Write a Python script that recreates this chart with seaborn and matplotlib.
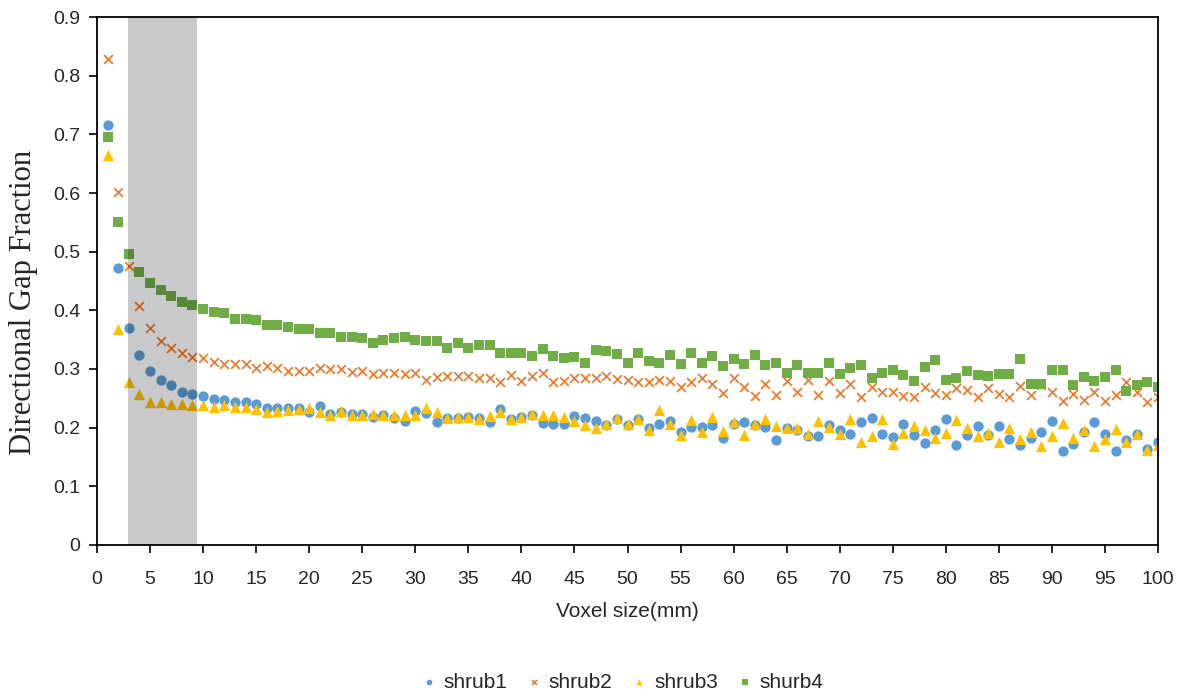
import numpy as np
import pandas as pd
import matplotlib
matplotlib.use("Agg")
import matplotlib.pyplot as plt
import seaborn as sns

voxel = list(range(1, 101))

shrub1 = [0.716, 0.472, 0.370, 0.324, 0.297, 0.281, 0.272, 0.261, 0.258, 0.254,
          0.249, 0.248, 0.243, 0.243, 0.240, 0.234, 0.234, 0.234, 0.233, 0.227,
          0.237, 0.224, 0.226, 0.223, 0.223, 0.219, 0.222, 0.216, 0.211, 0.228,
          0.225, 0.210, 0.216, 0.216, 0.219, 0.216, 0.210, 0.231, 0.215, 0.219,
          0.222, 0.208, 0.206, 0.206, 0.220, 0.216, 0.212, 0.205, 0.215, 0.204,
          0.214, 0.200, 0.207, 0.212, 0.193, 0.201, 0.201, 0.204, 0.182, 0.206,
          0.209, 0.204, 0.201, 0.179, 0.199, 0.196, 0.186, 0.185, 0.204, 0.196,
          0.189, 0.210, 0.216, 0.189, 0.184, 0.207, 0.188, 0.174, 0.196, 0.214,
          0.170, 0.188, 0.203, 0.188, 0.203, 0.180, 0.170, 0.183, 0.192, 0.211,
          0.160, 0.173, 0.193, 0.209, 0.189, 0.161, 0.179, 0.189, 0.164, 0.175]

shrub2 = [0.828, 0.602, 0.476, 0.407, 0.370, 0.348, 0.335, 0.327, 0.320, 0.318,
          0.312, 0.309, 0.309, 0.309, 0.301, 0.305, 0.302, 0.297, 0.297, 0.297,
          0.301, 0.300, 0.300, 0.295, 0.297, 0.292, 0.294, 0.294, 0.292, 0.294,
          0.282, 0.286, 0.288, 0.288, 0.288, 0.284, 0.284, 0.278, 0.290, 0.280,
          0.288, 0.294, 0.278, 0.280, 0.284, 0.284, 0.284, 0.288, 0.283, 0.281,
          0.278, 0.277, 0.282, 0.280, 0.270, 0.277, 0.284, 0.275, 0.259, 0.284,
          0.269, 0.254, 0.274, 0.255, 0.280, 0.261, 0.281, 0.256, 0.280, 0.259,
          0.274, 0.252, 0.269, 0.261, 0.261, 0.254, 0.252, 0.270, 0.259, 0.256,
          0.267, 0.264, 0.252, 0.267, 0.257, 0.252, 0.271, 0.256, 0.272, 0.260,
          0.245, 0.258, 0.248, 0.260, 0.245, 0.256, 0.277, 0.260, 0.243, 0.253]

shrub3 = [0.664, 0.369, 0.278, 0.257, 0.244, 0.244, 0.240, 0.241, 0.239, 0.238,
          0.235, 0.239, 0.235, 0.236, 0.231, 0.227, 0.229, 0.230, 0.231, 0.233,
          0.226, 0.222, 0.229, 0.222, 0.222, 0.223, 0.222, 0.221, 0.222, 0.222,
          0.233, 0.227, 0.216, 0.218, 0.218, 0.214, 0.220, 0.227, 0.215, 0.219,
          0.223, 0.221, 0.221, 0.219, 0.212, 0.205, 0.200, 0.206, 0.216, 0.206,
          0.214, 0.196, 0.230, 0.206, 0.188, 0.213, 0.193, 0.218, 0.194, 0.210,
          0.188, 0.206, 0.214, 0.202, 0.200, 0.199, 0.190, 0.212, 0.201, 0.190,
          0.214, 0.176, 0.186, 0.214, 0.173, 0.191, 0.203, 0.196, 0.182, 0.191,
          0.213, 0.199, 0.185, 0.191, 0.176, 0.200, 0.180, 0.193, 0.169, 0.185,
          0.208, 0.182, 0.196, 0.169, 0.180, 0.197, 0.176, 0.190, 0.162, 0.170]

shurb4 = [0.696, 0.550, 0.496, 0.466, 0.447, 0.435, 0.425, 0.414, 0.409, 0.403,
          0.398, 0.395, 0.385, 0.385, 0.384, 0.375, 0.375, 0.372, 0.368, 0.368,
          0.362, 0.362, 0.355, 0.355, 0.352, 0.345, 0.350, 0.352, 0.354, 0.350,
          0.348, 0.347, 0.335, 0.344, 0.335, 0.341, 0.341, 0.328, 0.328, 0.328,
          0.322, 0.334, 0.322, 0.318, 0.320, 0.311, 0.332, 0.330, 0.326, 0.311,
          0.327, 0.314, 0.311, 0.324, 0.309, 0.327, 0.310, 0.322, 0.305, 0.317,
          0.309, 0.324, 0.307, 0.311, 0.294, 0.307, 0.294, 0.294, 0.311, 0.292,
          0.302, 0.307, 0.284, 0.294, 0.298, 0.290, 0.280, 0.303, 0.315, 0.282,
          0.284, 0.297, 0.290, 0.288, 0.292, 0.292, 0.317, 0.274, 0.274, 0.299,
          0.299, 0.272, 0.286, 0.279, 0.287, 0.299, 0.263, 0.273, 0.277, 0.270]

series_names = ["shrub1", "shrub2", "shrub3", "shurb4"]
series_values = [shrub1, shrub2, shrub3, shurb4]
colors = ["#5B9BD5", "#ED7D31", "#FFC000", "#70AD47"]
markers = ["o", "x", "^", "s"]
sizes = [55, 40, 65, 55]

x_ticks = list(range(0, 101, 5))
y_ticks = [0, 0.1, 0.2, 0.3, 0.4, 0.5, 0.6, 0.7, 0.8, 0.9]
y_tick_labels = ["0", "0.1", "0.2", "0.3", "0.4", "0.5", "0.6", "0.7", "0.8", "0.9"]
band = (2.9, 9.4)

sns.set_style("white")
sans = ["Liberation Sans", "DejaVu Sans"]
plt.rcParams["font.family"] = sans

fig = plt.figure(figsize=(11.87, 6.94), dpi=100)
ax = fig.add_axes([0.0817, 0.2147, 0.9756 - 0.0817, 0.9755 - 0.2147])

for name, vals, c, m, s in zip(series_names, series_values, colors, markers, sizes):
    df = pd.DataFrame({"x": voxel, "y": vals})
    if m == "x":
        sns.scatterplot(data=df, x="x", y="y", ax=ax, color=c, marker=m, s=s,
                        linewidth=1.3, label=name, zorder=2)
    else:
        sns.scatterplot(data=df, x="x", y="y", ax=ax, color=c, marker=m, s=s,
                        linewidth=0, label=name, zorder=2)

ax.axvspan(band[0], band[1], color="black", alpha=0.21, lw=0, zorder=3)

ax.set_xlim(0, 100)
ax.set_ylim(0, 0.9)
ax.set_xticks(x_ticks)
ax.set_xticklabels([str(t) for t in x_ticks], fontsize=14, family=sans)
ax.set_yticks(y_ticks)
ax.set_yticklabels(y_tick_labels, fontsize=14, family=sans)
ax.tick_params(axis="both", direction="out", length=6, width=1.2, color="black",
               bottom=True, left=True, pad=6)
ax.tick_params(axis="x", pad=13)
for sp in ax.spines.values():
    sp.set_visible(True)
    sp.set_color("black")
    sp.set_linewidth(1.3)

ax.set_xlabel("Voxel size(mm)", fontsize=15, family=sans, labelpad=10)
ax.set_ylabel("Directional Gap Fraction", fontsize=22,
              family=["Liberation Serif", "DejaVu Serif"])
ax.yaxis.set_label_coords(-0.056, 0.46)

handles, labels = ax.get_legend_handles_labels()
ax.get_legend().remove()
fig.legend(handles, labels, loc="center", bbox_to_anchor=(0.523, 0.017),
           ncol=4, frameon=False, markerscale=0.55, handlelength=1.0,
           handletextpad=0.2, columnspacing=0.8, prop={"family": sans, "size": 15})

fig.savefig("out.png", dpi=100)
